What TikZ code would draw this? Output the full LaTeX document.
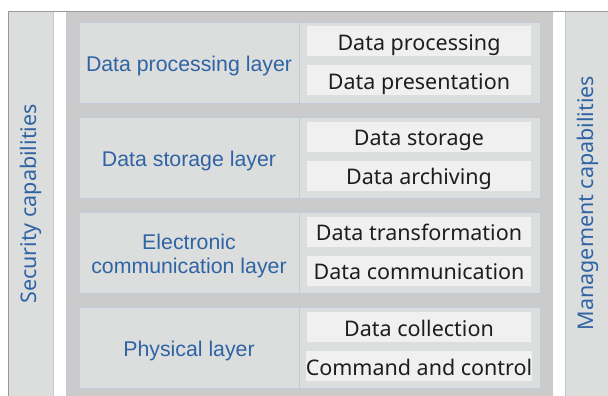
\documentclass[tikz,border=0pt]{standalone}
\usepackage{fontspec}
\setmainfont{Noto Sans}
\newfontfamily\arialfont{Liberation Sans}
\definecolor{colfill}{HTML}{DCDDDD}
\definecolor{panelfill}{HTML}{CBCBCB}
\definecolor{subfill}{HTML}{F0F0F0}
\definecolor{edgeblue}{HTML}{C2CAD6}
\definecolor{framegray}{HTML}{9A9A9A}
\definecolor{labelblue}{HTML}{2F64A4}
\definecolor{subtext}{HTML}{1E1E1E}
\tikzset{
  sidecol/.style={draw=edgeblue, line width=0.8pt, fill=colfill},
  layerleft/.style={draw=edgeblue, line width=0.8pt, fill=colfill, minimum width=220pt, minimum height=81pt, inner sep=0pt, align=center, text=labelblue, font=\arialfont\fontsize{21.3}{24}\selectfont},
  oneline/.style={text height=17pt, text depth=0pt},
  twoline/.style={},
  layerright/.style={draw=edgeblue, line width=0.8pt, fill=colfill, minimum width=241pt, minimum height=81pt, inner sep=0pt},
  subbox/.style={fill=subfill, minimum width=224pt, minimum height=30pt, inner sep=0pt, text height=18pt, text depth=0pt, text=subtext, font=\fontsize{21.5}{24}\selectfont},
  sidelabel/.style={rotate=90, text=labelblue, inner sep=0pt, font=\fontsize{21.5}{24}\selectfont}
}
\begin{document}
\begin{tikzpicture}[x=1pt,y=-1pt]
\useasboundingbox (0,0) rectangle (608,396);
\clip (0,0) rectangle (608,396);
\fill[white] (0,0) rectangle (608,396);
% outer frame
\draw[framegray, line width=1pt, fill=white] (8,11.5) rectangle (620,410);
% side columns
\fill[colfill] (8.5,12) rectangle (53,410);
\draw[edgeblue, line width=0.6pt] (53,12) -- (53,410);
\fill[colfill] (565,12) rectangle (620,410);
\draw[edgeblue, line width=0.6pt] (565,12) -- (565,410);
% main panel
\fill[panelfill] (66,12) rectangle (553,410);
\draw[edgeblue, line width=0.6pt] (66,12) -- (66,410);
% side labels
\node[sidelabel] (sec) at (31,204) {Security capabilities};
\node[sidelabel] (mgmt) at (588,203) {Management capabilities};
% layers
\foreach \i/\lab/\sa/\sb/\ls/\dy in {
  0/{Data processing layer}/{Data processing}/{Data presentation}/oneline/0,
  1/{Data storage layer}/{Data storage}/{Data archiving}/oneline/0,
  2/{Electronic\\communication layer}/{Data transformation}/{Data communication}/twoline/3,
  3/{Physical layer}/{Data collection}/{Command and control}/oneline/0} {
  \pgfmathsetmacro{\T}{22+95.2*\i}
  \node[layerright] (R\i) at (419.5,\T+40.5) {};
  \node[layerleft, \ls] (L\i) at (189,\T+40.5) {};
  \node[layerleft, \ls, draw=none, fill=none] (T\i) at (189,\T+40.5+\dy) {\lab};
  \node[subbox] (S\i a) at (419,\T+19.5) {\sa};
  \node[subbox] (S\i b) at (419,\T+58.5) {\sb};
}
\end{tikzpicture}
\end{document}
